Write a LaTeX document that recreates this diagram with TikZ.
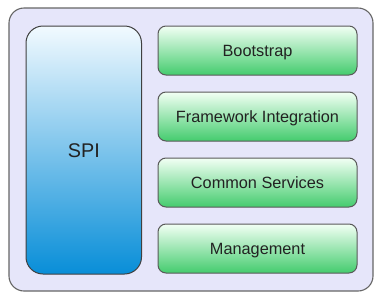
\documentclass[tikz,border=0pt]{standalone}
\usepackage{fontspec}
\setmainfont{Liberation Sans}
\begin{document}
\begin{tikzpicture}[x=1pt,y=-1pt,
  outerbox/.style={draw=black!60, line width=1.1pt, fill={rgb,255:red,230;green,230;blue,250}, rounded corners=15pt},
  spibox/.style={draw=black!75, line width=1pt, rounded corners=17pt, top color={rgb,255:red,242;green,250;blue,255}, bottom color={rgb,255:red,8;green,142;blue,216}},
  greenbox/.style={draw=black!65, line width=1pt, rounded corners=8pt, top color={rgb,255:red,242;green,255;blue,244}, bottom color={rgb,255:red,68;green,204;blue,110}},
  lbl/.style={anchor=base, inner sep=0pt, text={rgb,255:red,34;green,34;blue,34}, font=\fontsize{16.3}{19}\selectfont},
  biglbl/.style={anchor=base, inner sep=0pt, text={rgb,255:red,34;green,34;blue,34}, font=\fontsize{19.8}{23}\selectfont}]
\useasboundingbox (0,0) rectangle (378,298);
\path[outerbox] (9,8) rectangle (373,291);
\path[spibox] (26,26) rectangle (141.5,274);
\node[biglbl] (spi) at (83.8,157.3) {SPI};
\path[greenbox] (158,26) rectangle (357,75);
\node[lbl] (boot) at (257.5,56) {Bootstrap};
\path[greenbox] (158,92) rectangle (357,141);
\node[lbl] (fw) at (257.5,122) {Framework Integration};
\path[greenbox] (158,158) rectangle (357,207);
\node[lbl] (cs) at (257.5,188) {Common Services};
\path[greenbox] (158,224) rectangle (357,273);
\node[lbl] (mg) at (257.5,254) {Management};
\end{tikzpicture}
\end{document}
